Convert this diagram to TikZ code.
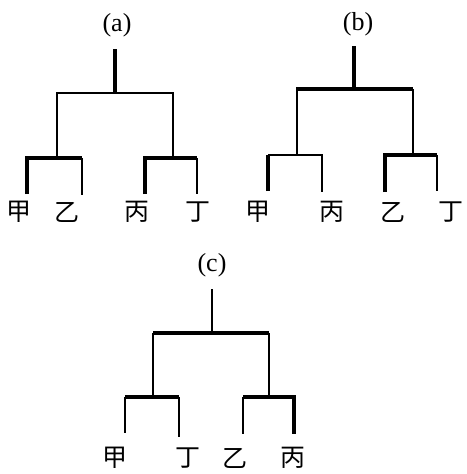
\documentclass[tikz,border=0pt]{standalone}
\usepackage{fontspec}
\setmainfont{Liberation Serif}
\newfontfamily\cjk{Noto Sans CJK TC}
\tikzset{
  thk/.style={line width=3.9pt},
  thn/.style={line width=2.5pt},
  tag/.style={font=\fontsize{26}{30}\selectfont, inner sep=0pt},
  leaf/.style={font=\cjk\fontsize{25}{28}\selectfont, inner sep=0pt},
}
\begin{document}
\begin{tikzpicture}[x=1pt,y=-1pt]
\useasboundingbox[fill=white] (0,0) rectangle (466,474);
% ---------------- (a)
\node[tag] (ta) at (117,25) {(a)};
\coordinate (aR) at (115,49);
\coordinate (aJ) at (115,93);
\coordinate (aL) at (57,93);
\coordinate (aRt) at (173,93);
\coordinate (aLb) at (57,158);
\coordinate (aRb) at (173,158);
\coordinate (a1t) at (27,158); \coordinate (a2t) at (82,158);
\coordinate (a3t) at (145,158); \coordinate (a4t) at (197,158);
\coordinate (a1) at (27,194); \coordinate (a2) at (82,195);
\coordinate (a3) at (145,194); \coordinate (a4) at (197,194);
\draw[thk] (aR) -- (aJ);
\draw[thn] (aLb) -- (aL) -- (aRt) -- (aRb);
\draw[thk] (a1) -- (a1t) -- (a2t);
\draw[thn] (a2t) -- (a2);
\draw[thk] (a3) -- (a3t) -- (a4t);
\draw[thn] (a4t) -- (a4);
\node[leaf] (la1) at (19,212) {甲};
\node[leaf] (la2) at (67,212) {乙};
\node[leaf] (la3) at (137,212) {丙};
\node[leaf] (la4) at (198,212) {丁};
% ---------------- (b)
\node[tag] (tb) at (358,24) {(b)};
\coordinate (bR) at (354,46);
\coordinate (bJ) at (354,89);
\coordinate (bL) at (296,89);
\coordinate (bLv) at (297,89);
\coordinate (bRt) at (413,89);
\coordinate (bLb) at (297,155);
\coordinate (bRb) at (413,155);
\coordinate (b1t) at (268,155); \coordinate (b2t) at (322,155);
\coordinate (b3t) at (385,155); \coordinate (b4t) at (437,155);
\coordinate (b1) at (268,191); \coordinate (b2) at (322,192);
\coordinate (b3) at (385,192); \coordinate (b4) at (437,191);
\draw[thk] (bR) -- (bJ);
\draw[thk] (bL) -- (bRt);
\draw[thn] (bLb) -- (bLv);
\draw[thn] (bRb) -- (bRt);
\draw[thn] (b1t) -- (b2t) -- (b2);
\draw[thk] (b1) -- (b1t);
\draw[thk] (b3) -- (b3t) -- (b4t);
\draw[thn] (b4t) -- (b4);
\node[leaf] (lb1) at (258,212) {甲};
\node[leaf] (lb2) at (332,212) {丙};
\node[leaf] (lb3) at (393,212) {乙};
\node[leaf] (lb4) at (451,212) {丁};
% ---------------- (c)
\node[tag] (tc) at (212,265) {(c)};
\coordinate (cR) at (212,289);
\coordinate (cJ) at (212,333);
\coordinate (cL) at (153,333);
\coordinate (cRt) at (269,333);
\coordinate (cLb) at (153,397);
\coordinate (cRb) at (269,397);
\coordinate (c1t) at (125,397); \coordinate (c2t) at (179,397);
\coordinate (c3t) at (243,397); \coordinate (c4t) at (294,397);
\coordinate (c1) at (125,433); \coordinate (c2) at (179,437);
\coordinate (c3) at (243,434); \coordinate (c4) at (294,434);
\draw[thn] (cR) -- (cJ);
\draw[thk] (cL) -- (cRt);
\draw[thn] (cLb) -- (cL);
\draw[thn] (cRb) -- (cRt);
\draw[thk] (c1t) -- (c2t);
\draw[thn] (c1t) -- (c1);
\draw[thn] (c2t) -- (c2);
\draw[thk] (c3t) -- (c4t) -- (c4);
\draw[thn] (c3t) -- (c3);
\node[leaf] (lc1) at (115,458) {甲};
\node[leaf] (lc2) at (188,458) {丁};
\node[leaf] (lc3) at (235,458) {乙};
\node[leaf] (lc4) at (293,458) {丙};
\end{tikzpicture}
\end{document}
